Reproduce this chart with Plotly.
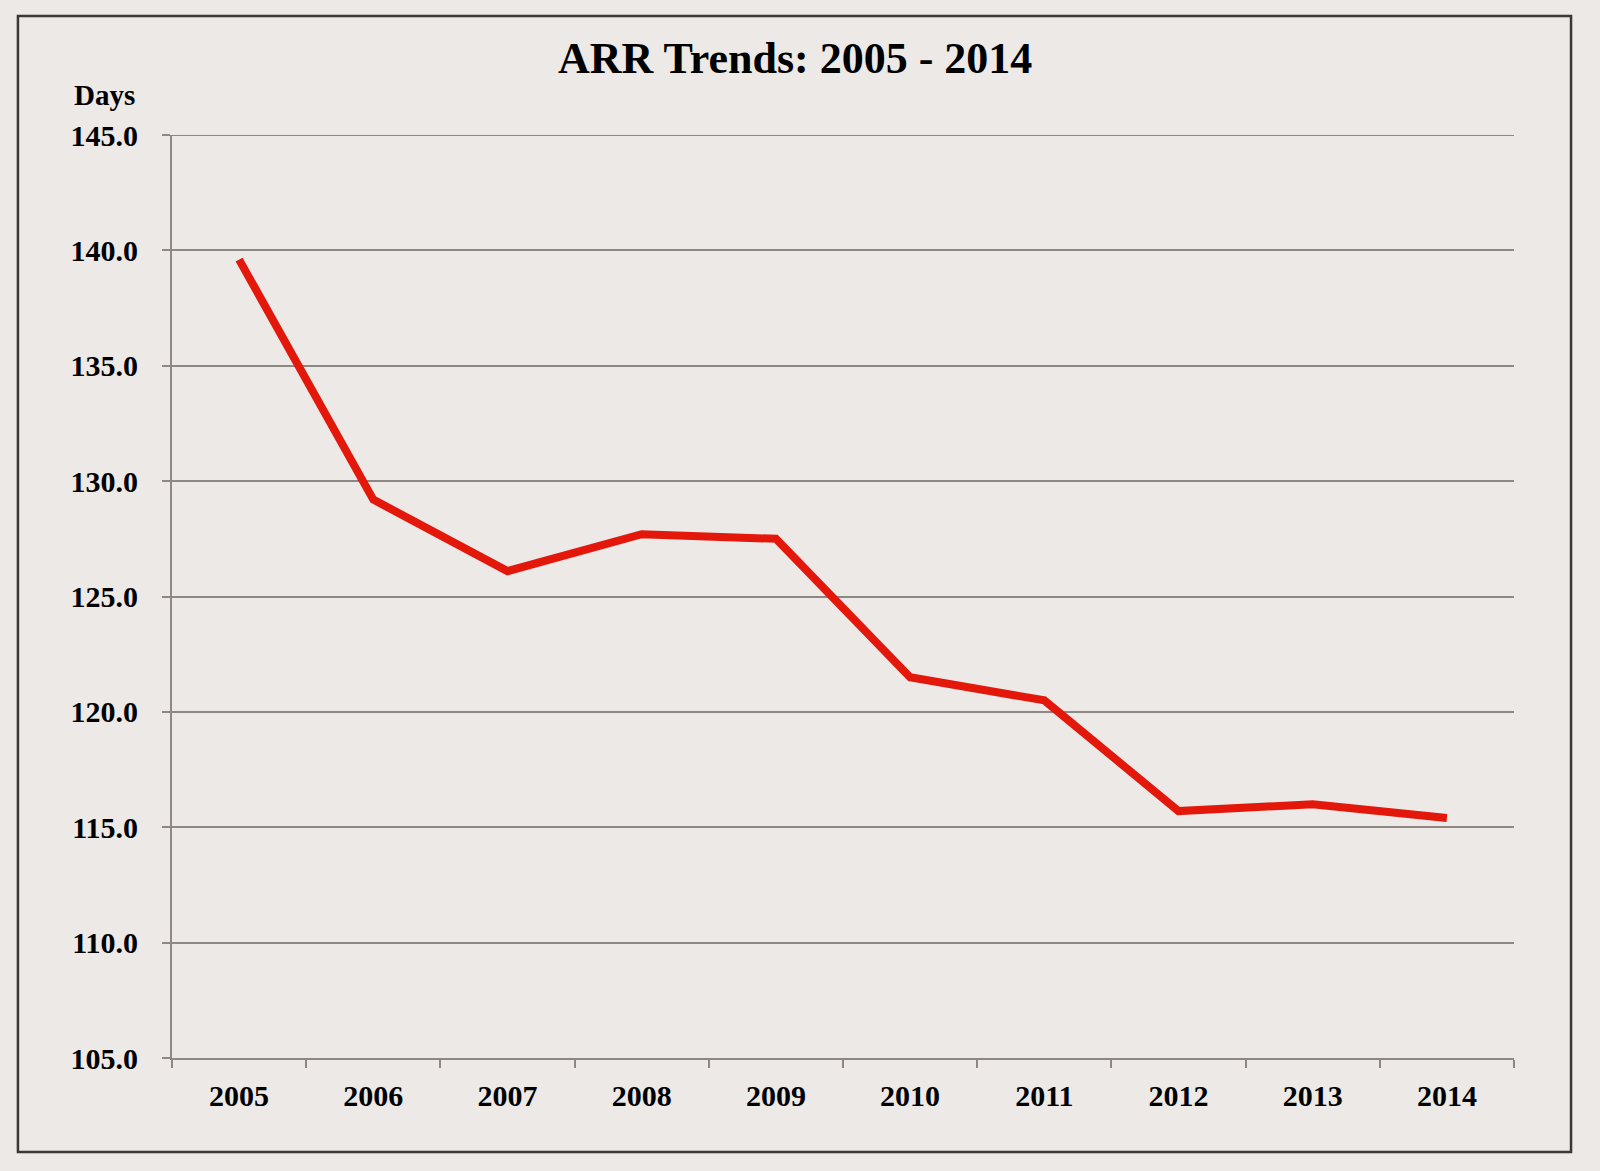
import plotly.graph_objects as go

years = ["2005", "2006", "2007", "2008", "2009", "2010", "2011", "2012", "2013", "2014"]
arr_days = [139.6, 129.2, 126.1, 127.7, 127.5, 121.5, 120.5, 115.7, 116.0, 115.4]
y_ticks = [105, 110, 115, 120, 125, 130, 135, 140, 145]

bg = "#ECE9E6"
grid = "#8E8884"
serif = "Liberation Serif"

fig = go.Figure(
    data=go.Scatter(
        x=years,
        y=arr_days,
        mode="lines",
        line=dict(color="#E3170A", width=8),
        hoverinfo="x+y",
    )
)

fig.update_layout(
    width=1600,
    height=1171,
    paper_bgcolor=bg,
    plot_bgcolor=bg,
    margin=dict(l=172, r=86, t=135, b=113),
    showlegend=False,
    title=dict(
        text="ARR Trends: 2005 - 2014",
        font=dict(family=serif, size=44, color="black", weight="bold"),
        xref="container", x=0.497, xanchor="center",
        yref="container", y=0.9507, yanchor="middle",
    ),
    xaxis=dict(
        type="category",
        range=[-0.5, 9.5],
        tickson="boundaries",
        ticks="outside", ticklen=8, tickwidth=2, tickcolor=grid,
        showline=True, linecolor=grid, linewidth=2,
        showgrid=False,
        tickfont=dict(family=serif, size=30, color="black", weight="bold"),
        ticklabelstandoff=10,
    ),
    yaxis=dict(
        range=[105, 145],
        tickvals=y_ticks,
        tickformat=".1f",
        ticks="outside", ticklen=8, tickwidth=2, tickcolor=grid,
        showline=True, linecolor=grid, linewidth=2,
        showgrid=True, gridcolor=grid, gridwidth=2,
        zeroline=False,
        tickfont=dict(family=serif, size=30, color="black", weight="bold"),
        ticklabelstandoff=18,
    ),
    annotations=[
        dict(
            text="Days", xref="paper", yref="paper",
            x=-0.0261, y=1.0428, xanchor="right", yanchor="middle",
            showarrow=False,
            font=dict(family=serif, size=29, color="black", weight="bold"),
        )
    ],
    shapes=[
        # outer frame
        dict(
            type="rect", xref="paper", yref="paper",
            x0=-0.1148, x1=1.0425, y0=-0.1018, y1=1.1289,
            line=dict(color="#3A3735", width=2.5),
        ),
        # top gridline (plotly drops the one on the range edge)
        dict(
            type="line", xref="paper", yref="y",
            x0=0, x1=1, y0=y_ticks[-1], y1=y_ticks[-1],
            line=dict(color=grid, width=2), layer="below",
        ),
    ],
)

fig.write_html(
    "out.html",
    config={"displayModeBar": False},
    post_script="document.body.style.margin='0';",
)
